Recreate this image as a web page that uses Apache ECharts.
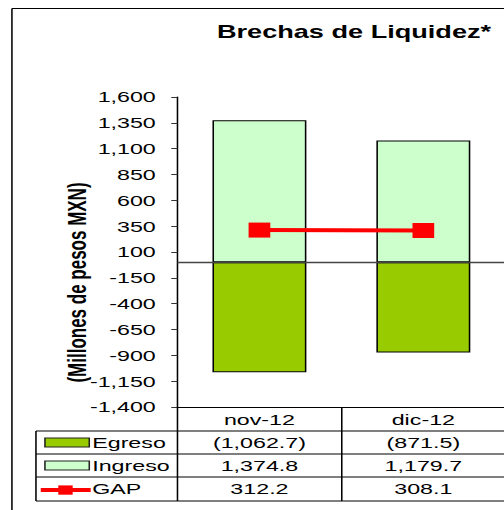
<!DOCTYPE html>
<html>
<head>
<meta charset="utf-8">
<title>Brechas de Liquidez</title>
<script src="https://cdn.jsdelivr.net/npm/echarts@6/dist/echarts.min.js"></script>
<style>
html, body { margin: 0; padding: 0; background: #fff; overflow: hidden; }
/* the source picture is stretched sideways, so the chart is drawn narrow and widened */
#main { width: 326px; height: 510px; transform: scaleX(1.55); transform-origin: 0 0; }
</style>
</head>
<body>
<div id="main"></div>
<script>
var categories = ['nov-12', 'dic-12'];
var egreso = [-1062.7, -871.5];
var ingreso = [1374.8, 1179.7];
var gap = [312.2, 308.1];
var rowNames = ['Egreso', 'Ingreso', 'GAP'];
var yMin = -1400, yMax = 1600, yStep = 250;

var FONT = '"Liberation Sans", Arial, sans-serif';

var fmtTick = function (v) {
    return v.toLocaleString('en-US');
};
var fmtCell = function (v) {
    var s = Math.abs(v).toLocaleString('en-US', {minimumFractionDigits: 1, maximumFractionDigits: 1});
    return v < 0 ? '(' + s + ')' : s;
};

var getOption = function () {
    return {
        animation: false,
        grid: {left: 114.5, top: 97, width: 215.5, height: 310},
        xAxis: {
            type: 'category',
            data: categories,
            axisLine: {onZero: false, lineStyle: {color: '#000', width: 1}},
            axisTick: {show: true, length: 94, lineStyle: {color: '#000', width: 1}},
            axisLabel: {color: '#000', fontFamily: FONT, fontSize: 15, margin: 5}
        },
        yAxis: {
            type: 'value',
            min: yMin, max: yMax, interval: yStep,
            axisLine: {show: true, lineStyle: {color: '#000', width: 1}},
            axisTick: {show: true, length: 4, lineStyle: {color: '#333'}},
            axisLabel: {color: '#000', fontFamily: FONT, fontSize: 15, margin: 14, formatter: fmtTick},
            splitLine: {show: false}
        },
        series: [
            {
                name: 'Egreso', type: 'bar', stack: 'flujo', barWidth: 60.6,
                data: egreso,
                itemStyle: {color: '#99cc00', borderColor: '#000', borderWidth: 1}
            },
            {
                name: 'Ingreso', type: 'bar', stack: 'flujo', barWidth: 60.6,
                data: ingreso,
                itemStyle: {color: '#ccffcc', borderColor: '#000', borderWidth: 1},
                markLine: {
                    silent: true, symbol: 'none', label: {show: false},
                    lineStyle: {color: '#444', type: 'solid', width: 1.4},
                    data: [{yAxis: 0}]
                }
            },
            {
                name: 'GAP', type: 'line', z: 5,
                data: gap,
                symbol: 'rect', symbolSize: [14, 15],
                lineStyle: {color: '#ff0000', width: 4},
                itemStyle: {color: '#ff0000'}
            }
        ]
    };
};

var getGraphic = function (chart) {
    var els = [];
    var line = function (x1, y1, x2, y2, color, w) {
        els.push({type: 'line', z: 10, shape: {x1: x1, y1: y1, x2: x2, y2: y2},
            style: {stroke: color || '#000', lineWidth: w || 1}});
    };
    var text = function (x, y, s, align, size, weight, rot) {
        els.push({type: 'text', z: 10, x: x, y: y, rotation: rot || 0,
            style: {text: s, fill: '#000', align: align, verticalAlign: 'middle',
                font: (weight || 'normal') + ' ' + (size || 15) + 'px ' + FONT}});
    };

    // frame, title and axis name
    line(7.7, 8.5, 330, 8.5);
    line(7.7, 8.5, 7.7, 512);
    text(228.4, 32, 'Brechas de Liquidez*', 'center', 17.5, 'bold');
    text(49.5, 282.5, '(Millones de pesos MXN)', 'center', 17, 'bold', Math.PI / 2);

    // data table under the plot
    var left = 23.2, right = 330;
    var rowY = [431, 454, 477, 501];
    rowY.forEach(function (y) { line(left, y, right, y); });
    line(left, rowY[0], left, rowY[3]);

    var rows = [egreso, ingreso, gap];
    for (var r = 0; r < rows.length; r++) {
        var cy = (rowY[r] + rowY[r + 1]) / 2;
        if (r === 0 || r === 1) {
            els.push({type: 'rect', z: 10, shape: {x: 29, y: cy - 4.5, width: 28.6, height: 9},
                style: {fill: r === 0 ? '#99cc00' : '#ccffcc', stroke: '#222', lineWidth: 1}});
        } else {
            line(26.3, cy + 1, 58.5, cy + 1, '#ff0000', 4);
            els.push({type: 'rect', z: 11, shape: {x: 37.6, y: cy - 3.6, width: 9.3, height: 9.3},
                style: {fill: '#ff0000'}});
        }
        text(59.5, cy, rowNames[r], 'left', 15);
        for (var i = 0; i < categories.length; i++) {
            var px = chart.convertToPixel({xAxisIndex: 0}, categories[i]);
            text(px, cy, fmtCell(rows[r][i]), 'center', 15);
        }
    }
    return els;
};

var chart = echarts.init(document.getElementById('main'), null, {renderer: 'svg'});
chart.setOption(getOption());
chart.setOption({graphic: getGraphic(chart)});
</script>
</body>
</html>
